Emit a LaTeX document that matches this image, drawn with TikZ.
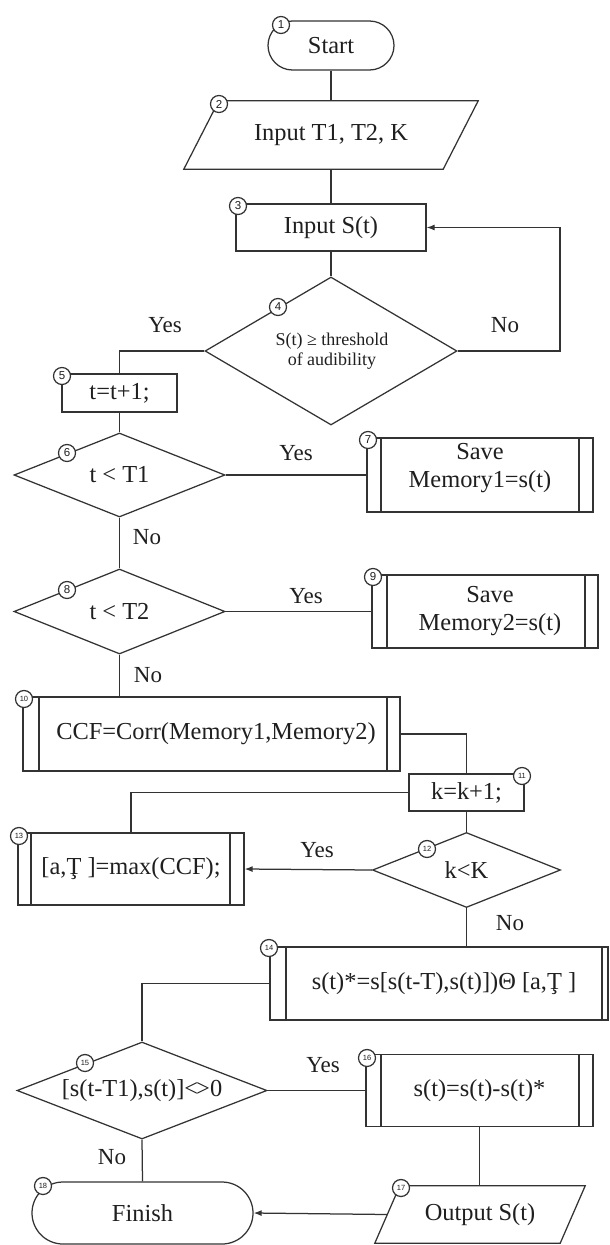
\documentclass[tikz,border=0pt]{standalone}
\usepackage{fontspec}
\setmainfont{Liberation Serif}
\setsansfont{Liberation Sans}
\usetikzlibrary{arrows.meta,shapes.geometric,calc}
\tikzset{inl/.initial=14pt, inr/.initial=14pt}
\begin{document}
\begin{tikzpicture}[x=1pt,y=-1pt,
  lw/.style={line width=1.25pt},
  ln/.style={lw, draw=black!80},
  txt/.style={font=\fontsize{24.4}{28}\selectfont, inner sep=0pt, align=center, text=black!88},
  box/.style={txt, ln, rectangle},
  dproc/.style={box, path picture={
    \draw[lw, black!80] ([xshift=\pgfkeysvalueof{/tikz/inl}]path picture bounding box.north west) -- ([xshift=\pgfkeysvalueof{/tikz/inl}]path picture bounding box.south west);
    \draw[lw, black!80] ([xshift=-\pgfkeysvalueof{/tikz/inr}]path picture bounding box.north east) -- ([xshift=-\pgfkeysvalueof{/tikz/inr}]path picture bounding box.south east);}},
  term/.style={box, rounded corners=#1},
  dia/.style={ln, diamond, inner sep=0pt},
  num/.style={ln, fill=white, circle, inner sep=0pt, minimum size=17pt, text=black!88, font=\sffamily\fontsize{11.5}{11.5}\selectfont},
  numsm/.style={num, font=\sffamily\fontsize{7.5}{7.5}\selectfont},
  lab/.style={font=\fontsize{23}{26}\selectfont, inner sep=0pt, text=black!88},
  arr/.style={ln, -{Latex[length=8pt,width=6pt]}}
]
\useasboundingbox (0,0) rectangle (610,1245);
\fill[white] (0,0) rectangle (610,1245);

% nodes
\node[term=24.5pt, minimum width=126pt, minimum height=49pt] (n1) at (331,45.5) {Start};
\node[txt, minimum width=294pt, minimum height=68pt] (n2) at (331,135) {Input T1, T2, K};
\draw[ln] ($(n2.north west)+(35,0)$) -- (n2.north east) -- ($(n2.south east)+(-35,0)$) -- (n2.south west) -- cycle;
\node[box, minimum width=190pt, minimum height=47pt] (n3) at (331,227.5) {Input S(t)};
\node[dia, minimum width=252pt, minimum height=148pt] (n4) at (331,351) {};
\node[txt, font=\fontsize{18}{20}\selectfont] (n4t) at (332,351) {S(t) ≥ threshold\\of audibility};
\node[box, minimum width=115pt, minimum height=38pt] (n5) at (119.5,393) {t=t+1;};
\node[dia, minimum width=211pt, minimum height=84pt] (n6) at (119.5,475) {};
\node[txt] (n6t) at (119.5,475) {t < T1};
\node[dproc, minimum width=226pt, minimum height=74pt] (n7) at (480,475) {};
\node[txt] (n7t) at (480,468) {Save\\Memory1=s(t)};
\node[dia, minimum width=211pt, minimum height=85pt] (n8) at (119.5,611.5) {};
\node[txt] (n8t) at (119.5,611.5) {t < T2};
\node[dproc, minimum width=226pt, minimum height=73pt, inl=15pt, inr=13pt] (n9) at (485,611.5) {};
\node[txt] (n9t) at (490,611.5) {Save\\Memory2=s(t)};
\node[dproc, minimum width=377pt, minimum height=74pt, inl=16pt, inr=13pt] (n10) at (211.5,734) {};
\node[txt] (n10t) at (216,734) {CCF=Corr(Memory1,Memory2)};
\node[box, minimum width=115pt, minimum height=37pt] (n11) at (466.5,792.5) {k=k+1;};
\node[dia, minimum width=188pt, minimum height=75pt] (n12) at (466.5,870) {};
\node[txt] (n12t) at (466.5,870) {k<K};
\node[dproc, minimum width=226pt, minimum height=72pt, inl=13pt, inr=14pt] (n13) at (131,869) {[a,Ţ ]=max(CCF);};
\node[dproc, minimum width=338pt, minimum height=73pt, inl=16pt, inr=6pt] (n14) at (439,983.5) {};
\node[txt] (n14t) at (444,983.5) {s(t)*=s[s(t-T),s(t)])Θ [a,Ţ ]};
\node[dia, minimum width=250pt, minimum height=97pt] (n15) at (142,1090.5) {};
\node[txt] (n15t) at (142,1090.5) {[s(t-T1),s(t)]<\kern-2pt>0};
\node[dproc, minimum width=227pt, minimum height=72pt, inl=15pt, inr=14pt] (n16) at (479.5,1090.5) {s(t)=s(t)-s(t)*};
\node[txt, minimum width=210pt, minimum height=57pt] (n17) at (480,1214.5) {Output S(t)};
\draw[ln] ($(n17.north west)+(25,0)$) -- (n17.north east) -- ($(n17.south east)+(-25,0)$) -- (n17.south west) -- cycle;
\node[term=31pt, minimum width=221pt, minimum height=62pt] (n18) at (142.5,1213) {Finish};

% connectors
\draw[ln] (n1.south) -- (n2.north);
\draw[ln] (n2.south) -- (n3.north);
\draw[ln] (n3.south) -- (n4.north);
\coordinate (c4) at (560,351);
\draw[arr] (n4.east) -- (c4) |- (n3.east);
\draw[ln] (n4.west) -| (n5.north);
\draw[ln] (n5.south) -- (n6.north);
\draw[ln] (n6.east) -- (n7.west);
\draw[ln] (n6.south) -- (n8.north);
\draw[ln] (n8.east) -- (n9.west);
\draw[ln] (n8.south) -- (n8.south |- n10.north);
\draw[ln] (n10.east) -| (n11.north);
\draw[ln] (n11.west) -| (n13.north);
\draw[ln] (n11.south) -- (n12.north);
\draw[arr] (n12.west) -- (n13.east);
\draw[ln] (n12.south) -- (n12.south |- n14.north);
\draw[ln] (n14.west) -| (n15.north);
\draw[ln] (n15.east) -- (n16.west);
\draw[ln] (n16.south) -- (n16.south |- n17.north);
\draw[ln] (n15.south) -- (n18.north);
\draw[arr] ($(n17.west)+(12.5,0)$) -- (n18.east);

% labels
\node[lab] (y4) at (165,325) {Yes};
\node[lab] (no4) at (505,325) {No};
\node[lab] (y6) at (296,453) {Yes};
\node[lab] (no6) at (147,537) {No};
\node[lab] (y8) at (306,596) {Yes};
\node[lab] (no8) at (148,675) {No};
\node[lab] (y12) at (317,850) {Yes};
\node[lab] (no12) at (510,923) {No};
\node[lab] (y15) at (323,1065) {Yes};
\node[lab] (no15) at (112,1157) {No};

% step numbers
\node[num] (k1) at (281,25) {1};
\node[num] (k2) at (219,104) {2};
\node[num] (k3) at (238,206) {3};
\node[num] (k4) at (278,307) {4};
\node[num] (k5) at (62,376) {5};
\node[num] (k6) at (67,453) {6};
\node[num] (k7) at (368,440) {7};
\node[num] (k8) at (67,590) {8};
\node[num] (k9) at (373,577) {9};
\node[numsm] (k10) at (24,699) {10};
\node[numsm] (k11) at (522,776) {11};
\node[numsm] (k12) at (427,849) {12};
\node[numsm] (k13) at (19,836) {13};
\node[numsm] (k14) at (269,948) {14};
\node[numsm] (k15) at (85,1063) {15};
\node[numsm] (k16) at (367,1058) {16};
\node[numsm] (k17) at (401,1188) {17};
\node[numsm] (k18) at (43,1186) {18};
\end{tikzpicture}
\end{document}
